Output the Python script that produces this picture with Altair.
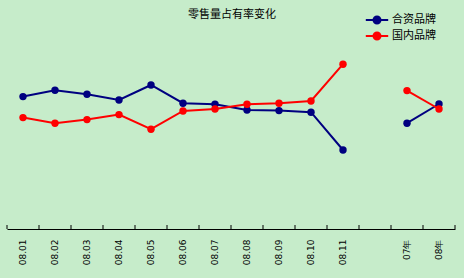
import altair as alt
import pandas as pd

title_text = "零售量占有率变化"
categories = ["08.01", "08.02", "08.03", "08.04", "08.05", "08.06", "08.07",
              "08.08", "08.09", "08.10", "08.11", " ", "07年", "08年"]
groups = ["月", "月", "月", "月", "月", "月", "月", "月", "月", "月", "月", None, "年", "年"]
jv = [66.2, 69.4, 67.4, 64.5, 72.0, 62.9, 62.4, 59.5, 59.2, 58.4, 39.5, None, 52.9, 62.5]
dom = [55.7, 52.9, 54.7, 57.2, 49.9, 59.0, 60.0, 62.4, 62.9, 64.0, 82.4, None, 69.2, 60.0]
series = ["合资品牌", "国内品牌"]
colors = ["#000080", "#FF0000"]

rows = []
for s, vals in zip(series, [jv, dom]):
    for c, g, v in zip(categories, groups, vals):
        if v is not None:
            rows.append({"cat": c, "grp": g, "series": s, "val": v})
df = pd.DataFrame(rows)

font = "Noto Sans CJK SC"
legend_path = ("M-1.6,0H1.6M-0.5,0A0.5,0.5,0,1,1,0.5,0A0.5,0.5,0,1,1,-0.5,0Z")

x_enc = alt.X("cat:N", sort=categories, scale=alt.Scale(domain=categories, paddingInner=0, paddingOuter=0),
              axis=alt.Axis(title=None, labelAngle=-90, labelFontSize=9, labelFont="DejaVu Sans",
                            labelColor="black", labelPadding=10, tickSize=0, domainColor="black",
                            domainWidth=1))
y_enc = alt.Y("val:Q", scale=alt.Scale(domain=[0, 100]), axis=None)
color_enc = alt.Color("series:N", sort=series, scale=alt.Scale(domain=series, range=colors),
                      legend=alt.Legend(title=None, orient="none", legendX=362, legendY=-17,
                                        symbolType=legend_path, symbolSize=196, symbolStrokeWidth=2,
                                        labelFont=font, labelFontSize=11, labelColor="black",
                                        labelOffset=7, rowPadding=-1, padding=0))

lines = alt.Chart(df).mark_line(strokeWidth=2).encode(
    x=x_enc, y=y_enc, color=color_enc, detail="grp:N")
points = alt.Chart(df).mark_point(filled=True, size=55, opacity=1).encode(
    x=x_enc, y=y_enc, color=color_enc)

tick_df = pd.DataFrame({"cat": categories})
ticks = alt.Chart(tick_df).mark_rule(color="black", strokeWidth=1).encode(
    x=alt.X("cat:N", sort=categories, bandPosition=0),
    y=alt.value(200), y2=alt.value(196))
end_tick = alt.Chart(pd.DataFrame({"cat": [categories[-1]]})).mark_rule(color="black", strokeWidth=1).encode(
    x=alt.X("cat:N", sort=categories, bandPosition=1),
    y=alt.value(200), y2=alt.value(196))

title = alt.Chart(pd.DataFrame({"t": [title_text]})).mark_text(
    font=font, fontSize=11, color="black", align="center", baseline="middle").encode(
    text="t:N", x=alt.value(225), y=alt.value(-14))

chart = alt.layer(ticks, end_tick, lines, points, title).properties(
    width=448, height=200,
    padding={"left": 7, "top": 29, "right": 9, "bottom": 49},
    autosize=alt.AutoSizeParams(type="none"),
    background="#C6ECCA",
).configure_view(stroke=None, fill="#C6ECCA")

chart.save("out.html", embed_options={"renderer": "svg", "actions": False})
